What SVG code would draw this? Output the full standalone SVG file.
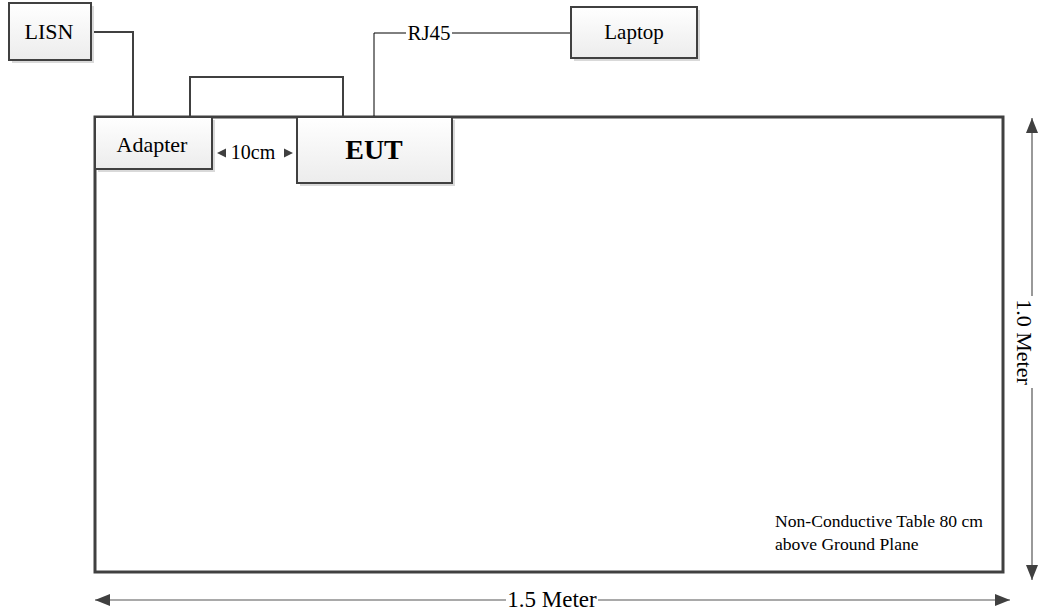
<svg xmlns="http://www.w3.org/2000/svg" width="1039" height="613" viewBox="0 0 1039 613">
<style>
.box{fill:url(#g);stroke:#404040;stroke-width:2}
.sh{fill:#d9d9d9}
.t{font-family:"Liberation Serif","Times New Roman",serif;fill:#000}
.w{fill:none;stroke:#404040;stroke-width:2}
.thin{fill:none;stroke:#000;stroke-width:1}
.dim{fill:none;stroke:#555;stroke-width:1.2}
</style>
<defs>
<linearGradient id="g" x1="0" y1="0" x2="0" y2="1">
<stop offset="0" stop-color="#ffffff"/>
<stop offset="1" stop-color="#ececec"/>
</linearGradient>
<marker id="b" viewBox="0 0 10 10" refX="10" refY="5" markerWidth="15" markerHeight="12" markerUnits="userSpaceOnUse" orient="auto-start-reverse" preserveAspectRatio="none">
<path d="M0,0 L10,5 L0,10 Z" fill="#404040"/>
</marker>
</defs>
<g id="table">
<rect x="95" y="117" width="908" height="455" fill="none" stroke="#404040" stroke-width="3"/>
<text class="t" x="775" y="527" font-size="17.6">Non-Conductive Table 80 cm</text>
<text class="t" x="775" y="550" font-size="17.6">above Ground Plane</text>
</g>
<g id="connectors">
<polyline class="w" points="91,32 133,32 133,117"/>
<polyline class="w" points="190,117 190,77 343,77 343,117"/>
<polyline class="thin" points="374,117 374,33 406,33"/>
<line class="thin" x1="452" y1="33" x2="571" y2="33"/>
<text class="t" x="429" y="40" font-size="21" text-anchor="middle">RJ45</text>
</g>
<g id="lisn">
<rect class="sh" x="12" y="6" width="82" height="57"/>
<rect class="box" x="9" y="3" width="82" height="57"/>
<text class="t" x="49" y="39" font-size="22" text-anchor="middle">LISN</text>
</g>
<g id="laptop">
<rect class="sh" x="574" y="10" width="126" height="51"/>
<rect class="box" x="571" y="7" width="126" height="51"/>
<text class="t" x="634" y="39" font-size="21" text-anchor="middle">Laptop</text>
</g>
<g id="adapter">
<rect class="sh" x="98" y="120" width="117" height="52"/>
<rect class="box" x="95" y="117" width="117" height="52"/>
<text class="t" x="152" y="152" font-size="22" text-anchor="middle">Adapter</text>
</g>
<g id="eut">
<rect class="sh" x="300" y="120" width="155" height="66"/>
<rect class="box" x="297" y="117" width="155" height="66"/>
<text class="t" x="374" y="159" font-size="28" font-weight="bold" text-anchor="middle">EUT</text>
</g>
<g id="gap">
<path d="M217,153 L226,148.5 L226,157.5 Z" fill="#404040"/>
<path d="M293,153 L284,148.5 L284,157.5 Z" fill="#404040"/>
<text class="t" x="253" y="159" font-size="20" text-anchor="middle">10cm</text>
</g>
<g id="dims">
<line class="dim" x1="95" y1="600" x2="506" y2="600" marker-start="url(#b)"/>
<line class="dim" x1="598" y1="600" x2="1010" y2="600" marker-end="url(#b)"/>
<text class="t" x="552" y="607" font-size="23" text-anchor="middle">1.5 Meter</text>
<line class="dim" x1="1032" y1="118" x2="1032" y2="296" marker-start="url(#b)"/>
<line class="dim" x1="1032" y1="388" x2="1032" y2="580" marker-end="url(#b)"/>
<text class="t" transform="translate(1032,342) rotate(90)" x="0" y="15" font-size="22" text-anchor="middle">1.0 Meter</text>
</g>
</svg>
